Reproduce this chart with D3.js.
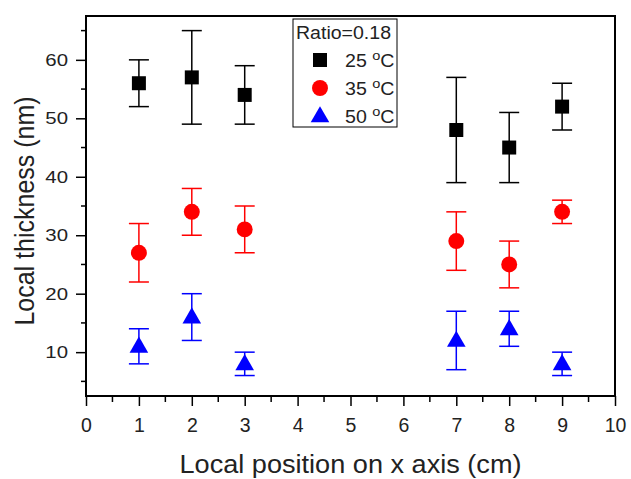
<!DOCTYPE html>
<html><head><meta charset="utf-8">
<script src="https://cdn.jsdelivr.net/npm/d3@7"></script>
<style>body{margin:0;background:#fff}svg{display:block}text{font-family:"Liberation Sans",Arial,sans-serif}</style>
</head><body>
<svg id="c" width="631" height="479"></svg>
<script>
const positions = [1, 2, 3, 7, 8, 9];
const t25 = [56, 57, 54, 48, 45, 52];
const t25lo = [52, 49, 49, 39, 39, 48];
const t25hi = [60, 65, 59, 57, 51, 56];
const t35 = [27, 34, 31, 29, 25, 34];
const t35lo = [22, 30, 27, 24, 21, 32];
const t35hi = [32, 38, 35, 34, 29, 36];
const t50 = [11, 16, 8, 12, 14, 8];
const t50lo = [8, 12, 6, 7, 11, 6];
const t50hi = [14, 20, 10, 17, 17, 10];
const seriesNames = ["25", "35", "50"];
const xTicks = [0,1,2,3,4,5,6,7,8,9,10];
const yTicks = [10,20,30,40,50,60];
const legendTitle = "Ratio=0.18";

const svg = d3.select("#c");
const L = 86, R = 615, T = 16, B = 396;
const x = d3.scaleLinear().domain([0, 10]).range([L, R]);
const y = d3.scaleLinear().domain([2.5, 67.5]).range([B, T]);

const series = [
  {name: seriesNames[0], v: t25, lo: t25lo, hi: t25hi, color: "#000000", sym: d3.symbolSquare, size: 196},
  {name: seriesNames[1], v: t35, lo: t35lo, hi: t35hi, color: "#ff0000", sym: d3.symbolCircle, size: 200},
  {name: seriesNames[2], v: t50, lo: t50lo, hi: t50hi, color: "#0000ff", sym: d3.symbolTriangle, size: 150}
];

// axes
const xAxis = d3.axisBottom(x).tickValues(xTicks).tickSize(10).tickPadding(12).tickFormat(d3.format("d"));
const gx = svg.append("g").attr("transform", `translate(0,${B})`).call(xAxis);
const yAxis = d3.axisLeft(y).tickValues(yTicks).tickSize(10).tickPadding(8).tickFormat(d3.format("d"));
const gy = svg.append("g").attr("transform", `translate(${L},0)`).call(yAxis);
[gx, gy].forEach(g => {
  g.select(".domain").remove();
  g.selectAll(".tick line").attr("stroke", "#000").attr("stroke-width", 1.5);
  g.selectAll(".tick text").attr("fill", "#222");
});
gx.selectAll(".tick text").attr("font-size", 19.5);
gy.selectAll(".tick text").attr("font-size", 17).attr("transform", function() {
  return `translate(${-8 - 10},0) scale(1.2,1) translate(${8 + 10},0)`;
});
// minor ticks
const xMinor = d3.range(0.5, 10, 1);
svg.append("g").selectAll("line").data(xMinor).join("line")
  .attr("x1", d => x(d)).attr("x2", d => x(d)).attr("y1", B).attr("y2", B + 6)
  .attr("stroke", "#000").attr("stroke-width", 1.5);
const yMinor = [5, 15, 25, 35, 45, 55, 65];
svg.append("g").selectAll("line").data(yMinor).join("line")
  .attr("y1", d => y(d)).attr("y2", d => y(d)).attr("x1", L).attr("x2", L - 5)
  .attr("stroke", "#000").attr("stroke-width", 1.5);

// frame
svg.append("rect").attr("x", L).attr("y", T).attr("width", R - L).attr("height", B - T)
  .attr("fill", "none").attr("stroke", "#000").attr("stroke-width", 2);

// titles
svg.append("text").attr("x", (L + R) / 2).attr("y", 473).attr("text-anchor", "middle")
  .attr("font-size", 25).attr("fill", "#222")
  .attr("textLength", 342).attr("lengthAdjust", "spacingAndGlyphs")
  .text("Local position on x axis (cm)");
svg.append("text").attr("transform", `translate(34,211) scale(1.12,1) rotate(-90)`)
  .attr("text-anchor", "middle").attr("font-size", 25).attr("fill", "#222").text("Local thickness (nm)");

// data
const capW = 10;
series.forEach(s => {
  const g = svg.append("g");
  positions.forEach((p, i) => {
    const cx = x(p);
    g.append("line").attr("x1", cx).attr("x2", cx).attr("y1", y(s.lo[i])).attr("y2", y(s.hi[i]))
      .attr("stroke", s.color).attr("stroke-width", 1.5);
    [s.lo[i], s.hi[i]].forEach(v => g.append("line").attr("x1", cx - capW).attr("x2", cx + capW)
      .attr("y1", y(v)).attr("y2", y(v)).attr("stroke", s.color).attr("stroke-width", 1.5));
    g.append("path").attr("d", d3.symbol().type(s.sym).size(s.size)())
      .attr("transform", `translate(${cx},${y(s.v[i]) + (s.sym === d3.symbolTriangle ? 1 : 0)})`)
      .attr("fill", s.color);
  });
});

// legend
const lg = svg.append("g");
lg.append("rect").attr("x", 293).attr("y", 19).attr("width", 104).attr("height", 108)
  .attr("fill", "#fff").attr("stroke", "#000").attr("stroke-width", 1);
lg.append("text").attr("x", 296).attr("y", 39).attr("font-size", 17.5).attr("fill", "#222")
  .attr("textLength", 95).attr("lengthAdjust", "spacingAndGlyphs").text(legendTitle);
series.forEach((s, i) => {
  const cy = 60 + i * 28;
  lg.append("path").attr("d", d3.symbol().type(s.sym).size(s.size)())
    .attr("transform", `translate(320,${cy + (s.sym === d3.symbolTriangle ? 1 : 0)})`).attr("fill", s.color);
  const t = lg.append("text").attr("transform", `translate(345,${cy + 7}) scale(1.12,1)`)
    .attr("font-size", 17.5).attr("fill", "#222");
  t.append("tspan").text(s.name + " ");
  t.append("tspan").attr("font-size", 13).attr("dy", -7).text("o");
  t.append("tspan").attr("dy", 7).text("C");
});
</script>
</body></html>
